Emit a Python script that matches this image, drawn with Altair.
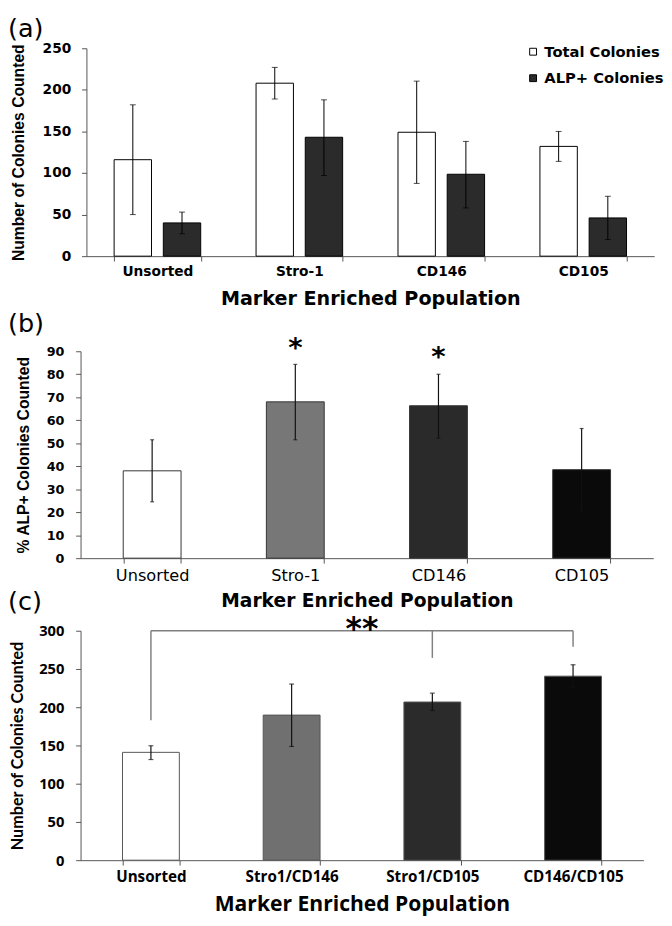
import altair as alt
import pandas as pd

# ---------------- data ----------------
panel_labels = ["(a)", "(b)", "(c)"]

# Panel (a)
a_cats = ["Unsorted", "Stro-1", "CD146", "CD105"]
a_series = ["Total Colonies", "ALP+ Colonies"]
a_total = [116, 208, 149, 132]
a_total_lo = [50, 189, 87.5, 114]
a_total_hi = [182, 227, 210.5, 150]
a_alp = [40, 143, 98.5, 46]
a_alp_lo = [27, 97, 58, 20]
a_alp_hi = [53, 188, 138, 72]
a_ticks = [0, 50, 100, 150, 200, 250]

# Panel (b)
b_cats = ["Unsorted", "Stro-1", "CD146", "CD105"]
b_vals = [38, 68, 66.3, 38.5]
b_lo = [24.5, 51.5, 52.2, 20.5]
b_hi = [51.5, 84.3, 80, 56.4]
b_sig = ["", "*", "*", ""]
b_ticks = [0, 10, 20, 30, 40, 50, 60, 70, 80, 90]

# Panel (c)
c_cats = ["Unsorted", "Stro1/CD146", "Stro1/CD105", "CD146/CD105"]
c_vals = [141, 189.7, 206.8, 240.6]
c_lo = [131.6, 148.7, 195.7, 225.6]
c_hi = [149.6, 230.3, 218.4, 255.5]
c_sig = ["**"]
c_bracket_cats = ["Unsorted", "Stro1/CD105", "CD146/CD105"]
c_bracket_top = 300
c_bracket_ends = [183, 264.5, 279]
c_ticks = [0, 50, 100, 150, 200, 250, 300]

# ---------------- style ----------------
AX = "#555555"
a_colors = ["#ffffff", "#2b2b2b"]
b_colors = ["#ffffff", "#777777", "#2a2a2a", "#0a0a0a"]
c_colors = ["#ffffff", "#707070", "#2b2b2b", "#0a0a0a"]
DJ = "DejaVu Sans"
LIB = "Liberation Sans"
OS = "Open Sans"
LATO = "Lato"
BOLD = 700

# ---------------- panel (a) ----------------
W_A, H_A, A_SHIFT = 585, 212, 6
dfa = pd.DataFrame({
    "cat": a_cats * 2,
    "series": [a_series[0]] * 4 + [a_series[1]] * 4,
    "value": a_total + a_alp,
    "lo": a_total_lo + a_alp_lo,
    "hi": a_total_hi + a_alp_hi,
})
xa_scale = alt.Scale(paddingInner=0.39, paddingOuter=0.195, range=[A_SHIFT, W_A])
xa_axis = alt.Axis(title="Marker Enriched Population", labelAngle=0, tickBand="extent",
                   labelFont=DJ, labelFontWeight=BOLD, labelFontSize=14, labelPadding=4,
                   labelColor="black", titleFont=DJ, titleFontWeight=BOLD, titleFontSize=19.5,
                   titlePadding=11, titleColor="black", tickSize=5, tickColor=AX, domainColor=AX)
ya_scale = alt.Scale(domain=[0, 250], nice=False)
ya_axis = alt.Axis(values=a_ticks, grid=False, title="Number of Colonies Counted", offset=-A_SHIFT,
                   labelFont=DJ, labelFontWeight=BOLD, labelFontSize=14, labelPadding=11,
                   labelColor="black", titleFont=LIB, titleFontWeight=BOLD, titleFontSize=16,
                   titlePadding=16, titleColor="black", tickSize=5, tickColor=AX, domainColor=AX)
xoff_a = alt.XOffset("series:N", sort=a_series, scale=alt.Scale(paddingInner=0.24, paddingOuter=0))


def xa():
    return alt.X("cat:N", sort=a_cats, scale=xa_scale, axis=xa_axis)


def ya(field):
    return alt.Y(field, scale=ya_scale, axis=ya_axis)


bars_a = alt.Chart(dfa).mark_bar(stroke="black", strokeWidth=1).encode(
    x=xa(), xOffset=xoff_a, y=ya("value:Q"),
    color=alt.Color("series:N", scale=alt.Scale(domain=a_series, range=a_colors),
                    legend=alt.Legend(title=None, orient="none", legendX=454, legendY=-4,
                                      symbolType="square", symbolSize=49,
                                      symbolStrokeColor="black", symbolStrokeWidth=1,
                                      labelFont=DJ, labelFontWeight=BOLD, labelFontSize=15,
                                      labelColor="black", labelOffset=4, rowPadding=11,
                                      padding=0)),
)
err_a = alt.Chart(dfa).mark_rule(color="black", strokeWidth=1).encode(
    x=xa(), xOffset=xoff_a, y=ya("lo:Q"), y2="hi:Q")
caph_a = alt.Chart(dfa).mark_tick(color="black", size=6, thickness=1).encode(
    x=xa(), xOffset=xoff_a, y=ya("hi:Q"))
capl_a = alt.Chart(dfa).mark_tick(color="black", size=6, thickness=1).encode(
    x=xa(), xOffset=xoff_a, y=ya("lo:Q"))
lab_a = alt.Chart(pd.DataFrame({"t": [panel_labels[0]]})).mark_text(
    align="left", baseline="top", font=DJ, fontSize=26, color="black").encode(
    text="t:N", x=alt.value(-74), y=alt.value(-32))
lab_b = alt.Chart(pd.DataFrame({"t": [panel_labels[1]]})).mark_text(
    align="left", baseline="top", font=DJ, fontSize=26, color="black").encode(
    text="t:N", x=alt.value(-74), y=alt.value(268))

chart_a = alt.layer(bars_a, err_a, caph_a, capl_a, lab_a, lab_b).properties(width=W_A, height=H_A)

# ---------------- panel (b) ----------------
W_B, H_B = 584, 211
dfb = pd.DataFrame({"cat": b_cats, "value": b_vals, "lo": b_lo, "hi": b_hi, "sig": b_sig})
xb_scale = alt.Scale(paddingInner=0.596, paddingOuter=0.298)
xb_axis = alt.Axis(title="Marker Enriched Population", labelAngle=0, tickBand="extent",
                   labelFont=DJ, labelFontSize=16.5, labelPadding=5, labelColor="black",
                   titleFont=DJ, titleFontWeight=BOLD, titleFontSize=19, titlePadding=8,
                   titleColor="black", tickSize=5, tickColor=AX, domainColor=AX)
yb_scale = alt.Scale(domain=[0, 90], nice=False)
yb_axis = alt.Axis(values=b_ticks, grid=False, title="% ALP+ Colonies Counted",
                   labelFont=DJ, labelFontWeight=BOLD, labelFontSize=13, labelPadding=12,
                   labelColor="black", titleFont=LIB, titleFontWeight=BOLD, titleFontSize=16,
                   titlePadding=15, titleColor="black", tickSize=5, tickColor=AX, domainColor=AX)


def xb():
    return alt.X("cat:N", sort=b_cats, scale=xb_scale, axis=xb_axis)


def yb(field):
    return alt.Y(field, scale=yb_scale, axis=yb_axis)


bars_b = alt.Chart(dfb).mark_bar(stroke="#333333", strokeWidth=1).encode(
    x=xb(), y=yb("value:Q"),
    color=alt.Color("cat:N", scale=alt.Scale(domain=b_cats, range=b_colors), legend=None))
err_b = alt.Chart(dfb).mark_rule(color="#111111", strokeWidth=1.2).encode(
    x=xb(), y=yb("lo:Q"), y2="hi:Q")
caph_b = alt.Chart(dfb).mark_tick(color="#111111", size=4, thickness=1.2).encode(
    x=xb(), y=yb("hi:Q"))
capl_b = alt.Chart(dfb).mark_tick(color="#111111", size=4, thickness=1.2).encode(
    x=xb(), y=yb("lo:Q"))
sig_b = alt.Chart(dfb).mark_text(font=DJ, fontWeight="bold", fontSize=28, color="black",
                                 baseline="alphabetic", dy=-8).encode(
    x=xb(), y=yb("hi:Q"), text="sig:N")
lab_c = alt.Chart(pd.DataFrame({"t": [panel_labels[2]]})).mark_text(
    align="left", baseline="top", font=DJ, fontSize=26, color="black").encode(
    text="t:N", x=alt.value(-74), y=alt.value(243))

chart_b = alt.layer(bars_b, err_b, caph_b, capl_b, sig_b, lab_c).properties(width=W_B, height=H_B)

# ---------------- panel (c) ----------------
W_C, H_C = 574, 234
dfc = pd.DataFrame({"cat": c_cats, "value": c_vals, "lo": c_lo, "hi": c_hi})
dfbr = pd.DataFrame({"cat": c_bracket_cats, "top": [c_bracket_top] * 3, "end": c_bracket_ends})
dfbh = pd.DataFrame({"cat": [c_bracket_cats[0], c_bracket_cats[-1]], "top": [c_bracket_top] * 2})
xc_scale = alt.Scale(paddingInner=0.596, paddingOuter=0.298)
xc_axis = alt.Axis(title="Marker Enriched Population", labelAngle=0, tickBand="extent",
                   labelFont=OS, labelFontWeight=BOLD, labelFontSize=15.5, labelPadding=5,
                   labelColor="black", titleFont=OS, titleFontWeight=BOLD, titleFontSize=21.5,
                   titlePadding=9, titleColor="black", tickSize=5, tickColor=AX, domainColor=AX)
yc_scale = alt.Scale(domain=[0, 300], nice=False)
yc_axis = alt.Axis(values=c_ticks, grid=False, title="Number of Colonies Counted",
                   labelFont=OS, labelFontWeight=BOLD, labelFontSize=15, labelPadding=12,
                   labelColor="black", titleFont=LATO, titleFontWeight=BOLD, titleFontSize=16.5,
                   titlePadding=13, titleColor="black", tickSize=5, tickColor=AX, domainColor=AX)


def xc():
    return alt.X("cat:N", sort=c_cats, scale=xc_scale, axis=xc_axis)


def yc(field):
    return alt.Y(field, scale=yc_scale, axis=yc_axis)


bars_c = alt.Chart(dfc).mark_bar(stroke="#555555", strokeWidth=1).encode(
    x=xc(), y=yc("value:Q"),
    color=alt.Color("cat:N", scale=alt.Scale(domain=c_cats, range=c_colors), legend=None))
err_c = alt.Chart(dfc).mark_rule(color="#111111", strokeWidth=1.2).encode(
    x=xc(), y=yc("lo:Q"), y2="hi:Q")
caph_c = alt.Chart(dfc).mark_tick(color="#111111", size=5, thickness=1.2).encode(
    x=xc(), y=yc("hi:Q"))
capl_c = alt.Chart(dfc).mark_tick(color="#111111", size=5, thickness=1.2).encode(
    x=xc(), y=yc("lo:Q"))
drops_c = alt.Chart(dfbr).mark_rule(color="#808080", strokeWidth=1.5).encode(
    x=xc(), y=yc("top:Q"), y2="end:Q")
hline_c = alt.Chart(dfbh).mark_line(color="#808080", strokeWidth=1.5).encode(
    x=xc(), y=yc("top:Q"))
sig_c = alt.Chart(pd.DataFrame({"t": c_sig, "top": [c_bracket_top]})).mark_text(
    font=DJ, fontWeight="bold", fontSize=32, color="black", baseline="alphabetic", dy=8).encode(
    x=alt.value(W_C / 2), y=yc("top:Q"), text="t:N")

chart_c = alt.layer(drops_c, hline_c, bars_c, err_c, caph_c, capl_c, sig_c).properties(
    width=W_C, height=H_C)

chart = alt.concat(chart_a, chart_b, chart_c, columns=1, spacing=-2, align="none").properties(
    padding={"left": 0, "top": 0, "right": 0, "bottom": 0}
).resolve_scale(color="independent", x="independent", y="independent"
).configure_view(stroke=None
).configure_axisY(labelFontWeight=BOLD, titleFontWeight=BOLD)

chart.save("out.html", embed_options={"renderer": "svg", "actions": False})
